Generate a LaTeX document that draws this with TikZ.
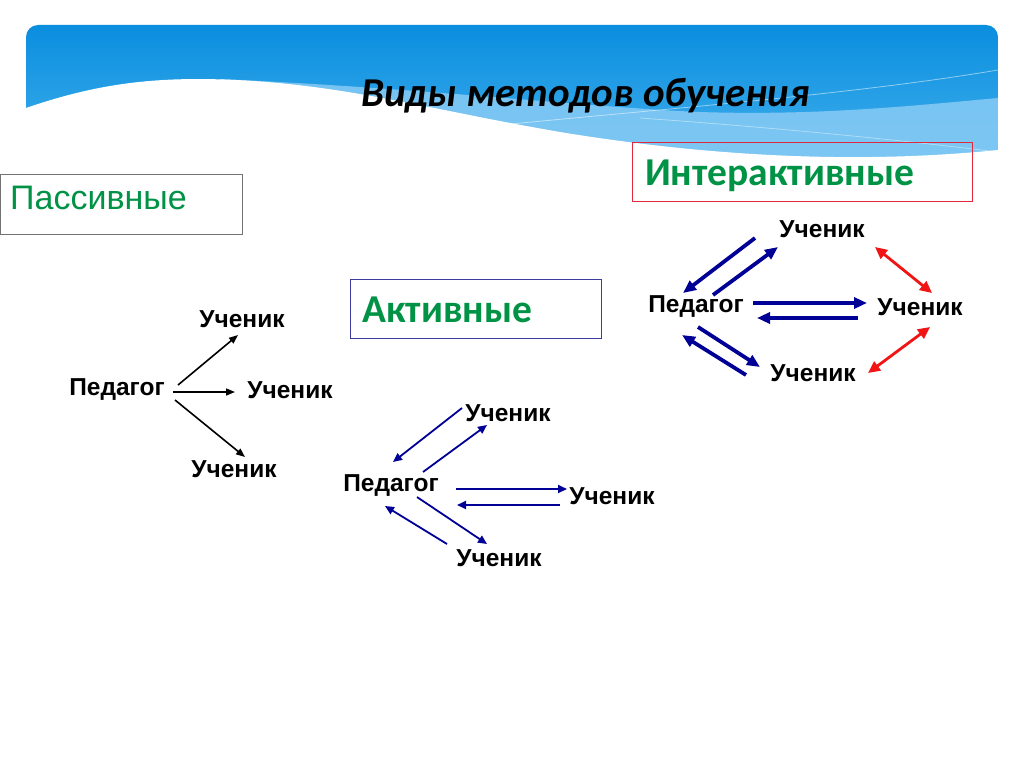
\documentclass[tikz,border=0pt]{standalone}
\usepackage{fontspec}
\setmainfont{Liberation Sans}
\newfontfamily\calfont{Carlito}
\usetikzlibrary{arrows.meta}
\definecolor{bannertop}{RGB}{10,142,222}
\definecolor{bannerbot}{RGB}{70,178,238}
\definecolor{lightband}{RGB}{140,205,245}
\definecolor{grntxt}{RGB}{0,146,69}
\definecolor{navyarr}{RGB}{0,0,150}
\definecolor{redarr}{RGB}{240,20,20}
\definecolor{actbox}{RGB}{60,60,160}
\definecolor{intbox}{RGB}{225,40,60}
\tikzset{
  lbl/.style={font=\bfseries\fontsize{24.5}{28}\selectfont, inner sep=0pt},
  boxtitle/.style={font=\calfont\bfseries\fontsize{39.5}{44}\selectfont, text=grntxt, inner sep=0pt, anchor=base west},
  blackarr/.style={draw=black, line width=1.6pt, -{Triangle[length=9pt,width=7pt]}},
  actarr/.style={draw=navyarr, line width=1.8pt, -{Triangle[length=9pt,width=8pt]}},
  intarr/.style={draw=navyarr, line width=3.8pt, -{Triangle[length=13pt,width=11pt]}},
  redboth/.style={draw=redarr, line width=2.8pt, {Triangle[length=12pt,width=11pt]}-{Triangle[length=12pt,width=11pt]}},
}
\begin{document}
\begin{tikzpicture}[x=1pt,y=-1pt]
\useasboundingbox (0,0) rectangle (1024,768);
\fill[white] (0,0) rectangle (1024,768);
% banner
\begin{scope}
  \clip[rounded corners=12pt] (26,25) rectangle (998,300);
  \shade[top color=bannertop, bottom color=bannerbot] (26,25) rectangle (998,175);
  \fill[lightband, opacity=0.8] (220,79) .. controls (420,88) and (600,108) .. (700,112)
     .. controls (820,116) and (920,105) .. (998,98) -- (998,175) -- (220,175) -- cycle;
  \draw[white, opacity=0.5, line width=0.8pt] (470,128) .. controls (650,110) and (850,95) .. (998,70);
  \draw[white, opacity=0.4, line width=0.8pt] (640,118) .. controls (780,128) and (900,140) .. (998,152);
  \fill[white] (26,108) .. controls (90,86) and (140,79) .. (200,79)
     .. controls (330,80) and (420,108) .. (560,132)
     .. controls (700,155) and (850,165) .. (998,150) -- (998,300) -- (26,300) -- cycle;
\end{scope}
% title
\node[font=\calfont\bfseries\itshape\fontsize{41}{46}\selectfont, text=black, inner sep=0pt, anchor=base] (title) at (585.5,106.5) {Виды методов обучения};
% boxes
\node[draw=black!55, line width=1pt, minimum width=242pt, minimum height=60pt, anchor=north west, inner sep=0pt] (pasbox) at (0,174) {};
\node[font=\fontsize{34}{38}\selectfont, text=grntxt, inner sep=0pt, anchor=base west] (pastxt) at (10,209) {Пассивные};
\node[draw=actbox, line width=1pt, minimum width=251pt, minimum height=59pt, anchor=north west, inner sep=0pt] (actbox) at (350,279) {};
\node[boxtitle] (acttxt) at (362,322) {Активные};
\node[draw=intbox, line width=1pt, minimum width=340pt, minimum height=59pt, anchor=north west, inner sep=0pt] (intbox) at (632,142) {};
\node[boxtitle] (inttxt) at (645,185) {Интерактивные};
% passive
\node[lbl] (pP) at (117,390) {Педагог};
\node[lbl] (pU1) at (242,319) {Ученик};
\node[lbl] (pU2) at (290,390) {Ученик};
\node[lbl] (pU3) at (234,469) {Ученик};
\coordinate (pa1s) at (178,385); \coordinate (pa1e) at (238,335);
\coordinate (pa2s) at (173,392); \coordinate (pa2e) at (235,392);
\coordinate (pa3s) at (175,400); \coordinate (pa3e) at (245,457);
\draw[blackarr] (pa1s) -- (pa1e);
\draw[blackarr] (pa2s) -- (pa2e);
\draw[blackarr] (pa3s) -- (pa3e);
% active
\node[lbl] (aP) at (391,486) {Педагог};
\node[lbl] (aU1) at (508,413) {Ученик};
\node[lbl] (aU2) at (612,496) {Ученик};
\node[lbl] (aU3) at (499,558) {Ученик};
\coordinate (aa1s) at (462,408); \coordinate (aa1e) at (393,462);
\coordinate (aa2s) at (423,472); \coordinate (aa2e) at (487,425);
\coordinate (aa3s) at (456,489); \coordinate (aa3e) at (567,489);
\coordinate (aa4s) at (560,505); \coordinate (aa4e) at (457,505);
\coordinate (aa5s) at (417,497); \coordinate (aa5e) at (487,544);
\coordinate (aa6s) at (447,544); \coordinate (aa6e) at (385,506);
\draw[actarr] (aa1s) -- (aa1e);
\draw[actarr] (aa2s) -- (aa2e);
\draw[actarr] (aa3s) -- (aa3e);
\draw[actarr] (aa4s) -- (aa4e);
\draw[actarr] (aa5s) -- (aa5e);
\draw[actarr] (aa6s) -- (aa6e);
% interactive
\node[lbl] (iP) at (696,307) {Педагог};
\node[lbl] (iU1) at (822,229) {Ученик};
\node[lbl] (iU2) at (920,307) {Ученик};
\node[lbl] (iU3) at (813,373) {Ученик};
\coordinate (ia1s) at (755,238); \coordinate (ia1e) at (683,293);
\coordinate (ia2s) at (713,295); \coordinate (ia2e) at (778,247);
\coordinate (ia3s) at (753,303); \coordinate (ia3e) at (867,303);
\coordinate (ia4s) at (858,318); \coordinate (ia4e) at (757,318);
\coordinate (ia5s) at (698,327); \coordinate (ia5e) at (760,367);
\coordinate (ia6s) at (746,375); \coordinate (ia6e) at (682,335);
\coordinate (ir1s) at (875,247); \coordinate (ir1e) at (932,293);
\coordinate (ir2s) at (930,327); \coordinate (ir2e) at (868,373);
\draw[intarr] (ia1s) -- (ia1e);
\draw[intarr] (ia2s) -- (ia2e);
\draw[intarr] (ia3s) -- (ia3e);
\draw[intarr] (ia4s) -- (ia4e);
\draw[intarr] (ia5s) -- (ia5e);
\draw[intarr] (ia6s) -- (ia6e);
\draw[redboth] (ir1s) -- (ir1e);
\draw[redboth] (ir2s) -- (ir2e);
\end{tikzpicture}
\end{document}
